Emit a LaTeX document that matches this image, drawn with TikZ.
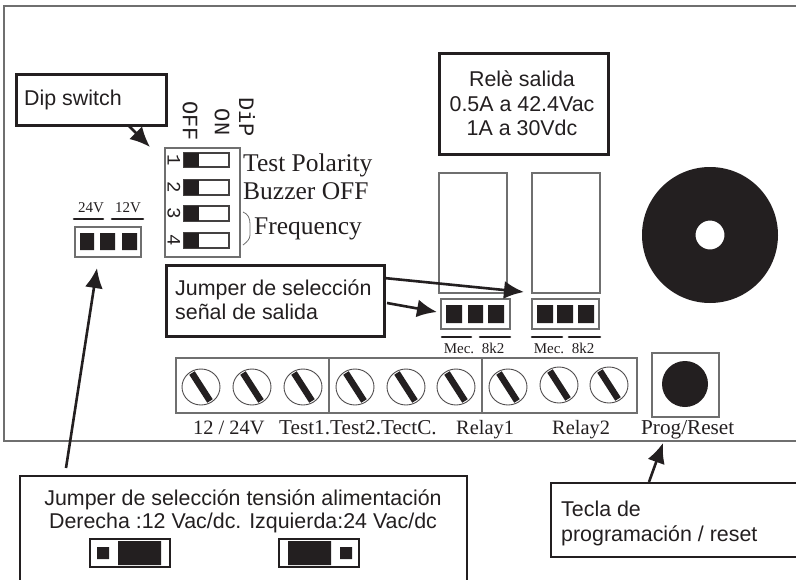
\documentclass[tikz,border=0pt]{standalone}
\usepackage{fontspec}
\setmainfont{Liberation Serif}
\setsansfont{Liberation Sans}
\setmonofont{Liberation Mono}
\usetikzlibrary{arrows.meta}
\definecolor{ink}{HTML}{231F20}
\definecolor{wire}{HTML}{6F6F6F}
\tikzset{
  x=1pt,y=-1pt,
  pcb/.style={draw=wire,line width=1.2pt},
  board/.style={draw=wire,line width=1.6pt},
  callout/.style={draw=ink,line width=2.7pt,fill=white},
  label/.style={font=\sffamily\fontsize{21.4}{25}\selectfont,text=ink,inner sep=0pt},
  silk/.style={font=\rmfamily\fontsize{25.5}{28}\selectfont,text=ink,inner sep=0pt,anchor=base west},
  term/.style={font=\rmfamily\fontsize{20.4}{24}\selectfont,text=ink,inner sep=0pt,anchor=base west},
  tiny/.style={font=\rmfamily\fontsize{15}{16}\selectfont,text=ink,inner sep=0pt,anchor=base},
  mono/.style={font=\ttfamily\fontsize{22}{24}\selectfont,text=ink,inner sep=0pt,rotate=-90},
  digit/.style={font=\ttfamily\fontsize{19}{20}\selectfont,text=ink,inner sep=0pt,rotate=-90},
  arr/.style={draw=ink,line width=2.6pt,-{Latex[length=20pt,width=18pt]}},
  blk/.style={fill=ink,draw=none},
  bar/.style={draw=ink,line width=2.6pt,line cap=round},
  slot/.style={draw=ink,line width=6.5pt},
}
\newcommand{\screw}[2]{%
  \draw[draw=ink!80,line width=.9pt] (#1,#2) ellipse (19 and 18);
  \draw[slot] (#1-9,#2-14) -- (#1+9,#2+14);
}
\newcommand{\dipsw}[2]{%
  \draw[draw=ink!85,line width=1.2pt] (184,#1) rectangle (229,#2);
  \fill[blk] (184,#1) rectangle (199,#2);
}
\begin{document}
\begin{tikzpicture}
\useasboundingbox (0,0) rectangle (796,579);
% board outline
\draw[board] (796,6) -- (4,6) -- (4,441) -- (796,441);

% dip switch
\draw[pcb] (165,148) rectangle (240,257);
\dipsw{153}{167}\dipsw{180}{195}\dipsw{206}{221}\dipsw{233}{248}
\node[digit] (d1) at (174,160) {1};
\node[digit] (d2) at (174,187) {2};
\node[digit] (d3) at (174,213) {3};
\node[digit] (d4) at (174,240) {4};
\node[mono] (off) at (190,121) {OFF};
\node[mono] (on) at (222,122) {ON};
\node[mono] (dip) at (247,117) {DiP};
\node[silk] (tp) at (243,171) {Test Polarity};
\node[silk] (bz) at (243,199) {Buzzer OFF};
\node[silk] (fq) at (254,234) {Frequency};
\draw[draw=wire,line width=.8pt] (243,212) .. controls (248,214) and (250,218) .. (250,224) -- (250,235) .. controls (250,239) and (247,242) .. (243,245);

% supply jumper
\draw[pcb] (75,227) rectangle (141,257);
\fill[blk] (80,233) rectangle (94,250) (100,233) rectangle (115,250) (122,233) rectangle (137,250);
\draw[bar] (74,219) -- (103,219);
\draw[bar] (112,219) -- (143,219);
\node[tiny] (v24) at (91,212) {24V};
\node[tiny] (v12) at (128,212) {12V};

% relays
\draw[pcb] (439,173) rectangle (507,293);
\draw[pcb] (532,173) rectangle (600,293);
\draw[pcb] (441,299) rectangle (510,329);
\draw[pcb] (532,299) rectangle (599,329);
\fill[blk] (446,305) rectangle (462,323) (468,305) rectangle (483,323) (488,305) rectangle (504,323);
\fill[blk] (537,305) rectangle (553,323) (557,305) rectangle (573,323) (578,305) rectangle (594,323);
\draw[bar] (442,337) -- (471,337);
\draw[bar] (480,337) -- (510,337);
\draw[bar] (532,337) -- (562,337);
\draw[bar] (569,337) -- (600,337);
\node[tiny] (m1) at (459,353) {Mec.};
\node[tiny] (k1) at (493,353) {8k2};
\node[tiny] (m2) at (549,353) {Mec.};
\node[tiny] (k2) at (583,353) {8k2};

% buzzer
\fill[ink,even odd rule] (710,235) circle (68) (710,235) circle (14.5);

% terminal block
\draw[pcb] (176,358) rectangle (637,413);
\draw[pcb] (329,358) -- (329,413);
\draw[pcb] (482,358) -- (482,413);
\screw{201}{387}\screw{252}{387}\screw{303}{387}
\screw{355}{387}\screw{406}{387}\screw{456}{387}
\screw{508}{387}\screw{559}{385}\screw{609}{385}
\node[term] (t1) at (193,434) {12 / 24V};
\node[term,font=\rmfamily\fontsize{21.2}{24}\selectfont] (t2) at (279,434) {Test1.Test2.TectC.};
\node[term] (t3) at (456,434) {Relay1};
\node[term] (t4) at (552,434) {Relay2};
\node[term,font=\rmfamily\fontsize{21.2}{24}\selectfont] (t5) at (641,434) {Prog/Reset};

% button
\draw[pcb] (652,353) rectangle (719,417);
\fill[ink] (685,384) circle (23);

% callouts
\node[callout,anchor=north west,minimum width=150pt,minimum height=51pt,inner sep=0pt] (cdip) at (15,73) {};
\node[label,anchor=base west] (tdip) at (24,105) {Dip switch};

\node[callout,anchor=north west,minimum width=169pt,minimum height=101pt,inner sep=0pt] (crele) at (438,52) {};
\node[label,anchor=base] (tr1) at (522,86) {Relè salida};
\node[label,anchor=base] (tr2) at (522,111) {0.5A a 42.4Vac};
\node[label,anchor=base] (tr3) at (522,135) {1A a 30Vdc};

\node[callout,anchor=north west,minimum width=218pt,minimum height=71pt,inner sep=0pt] (cjmp) at (165,264) {};
\node[label,anchor=base west] (tj1) at (175,295) {Jumper de selección};
\node[label,anchor=base west] (tj2) at (175,319) {señal de salida};

% bottom callouts, open at the picture edge
\draw[callout,fill=none] (20,585) -- (20,476) -- (467,476) -- (467,585);
\node[label,anchor=base] (ts1) at (243,505) {Jumper de selección tensión alimentación};
\node[label,anchor=base] (ts2) at (243,528) {Derecha :12 Vac/dc. Izquierda:24 Vac/dc};
\draw[draw=ink,line width=2.4pt] (90,539) rectangle (170,567);
\fill[blk] (97,547) rectangle (109,559) (118,541) rectangle (161,565);
\draw[draw=ink,line width=2.4pt] (279,539) rectangle (359,567);
\fill[blk] (288,541) rectangle (331,565) (340,547) rectangle (352,559);

\draw[callout,fill=none] (800,483) -- (551,483) -- (551,557) -- (800,557);
\node[label,anchor=base west] (tt1) at (561,516) {Tecla de};
\node[label,anchor=base west] (tt2) at (561,541) {programación / reset};

% connectors
\coordinate (a1s) at (128,125);
\coordinate (a1e) at (150,147);
\coordinate (a2s) at (66,468);
\coordinate (a2e) at (97,268);
\coordinate (a3s) at (384,278);
\coordinate (a3e) at (524,292);
\coordinate (a4s) at (387,303);
\coordinate (a4e) at (437,312);
\coordinate (a5s) at (649,482);
\coordinate (a5e) at (663,443);
\draw[arr] (a1s) -- (a1e);
\draw[arr] (a2s) -- (a2e);
\draw[arr] (a3s) -- (a3e);
\draw[arr] (a4s) -- (a4e);
\draw[arr] (a5s) -- (a5e);
\end{tikzpicture}
\end{document}
